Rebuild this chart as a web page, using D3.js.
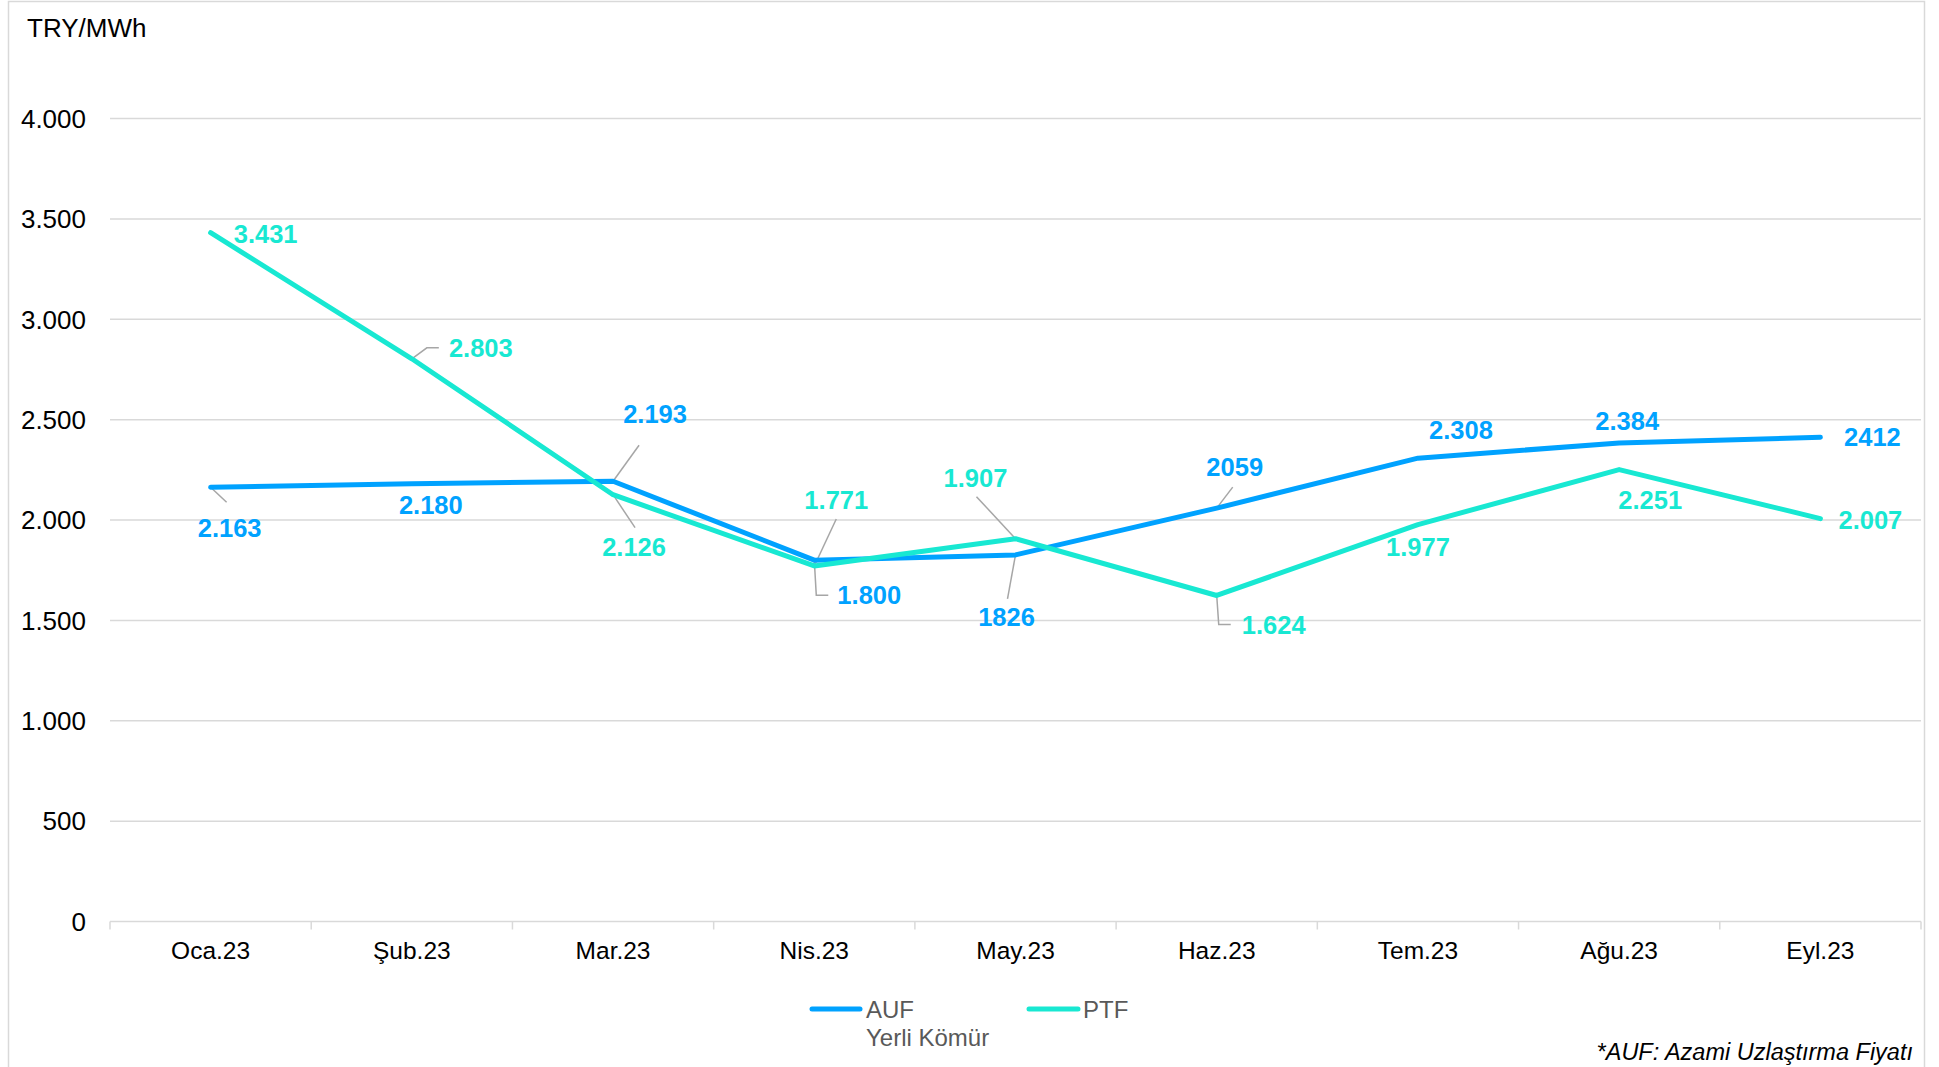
<!DOCTYPE html>
<html>
<head>
<meta charset="utf-8">
<script src="https://cdn.jsdelivr.net/npm/d3@7"></script>
<style>
  body { margin: 0; background: #ffffff; }
  svg { display: block; font-family: "Liberation Sans", Arial, sans-serif; }
</style>
</head>
<body>
<svg id="chart" width="1939" height="1067"></svg>
<script>
const months = ["Oca.23", "Şub.23", "Mar.23", "Nis.23", "May.23", "Haz.23", "Tem.23", "Ağu.23", "Eyl.23"];
const aufValues = [2163, 2180, 2193, 1800, 1826, 2059, 2308, 2384, 2412];
const ptfValues = [3431, 2803, 2126, 1771, 1907, 1624, 1977, 2251, 2007];
const aufLabels = ["2.163", "2.180", "2.193", "1.800", "1826", "2059", "2.308", "2.384", "2412"];
const ptfLabels = ["3.431", "2.803", "2.126", "1.771", "1.907", "1.624", "1.977", "2.251", "2.007"];
const yTicks = [0, 500, 1000, 1500, 2000, 2500, 3000, 3500, 4000];

// label placement (offset of label centre from its point) and leader lines
const aufLabelPos = [[19, 41], [19, 21], [42, -67], [55, 35], [-9, 62], [18, -41], [43, -28], [8, -22], [52, 0]];
const ptfLabelPos = [[55, 1], [69, -11], [21, 52], [22, -66], [-40, -61], [57, 29], [0, 22], [31, 30], [50, 1]];
const aufLeaders = [[[16, 15]], null, [[26, -36]], [[2, 35], [14, 35]], [[-8, 44]], [[16, -21]], null, null, null];
const ptfLeaders = [null, [[15, -11], [27, -11]], [[22, 33]], [[22, -47]], [[-39, -42]], [[2, 29], [14, 29]], null, null, null];

const AUF_COLOR = "#00a2ff";
const PTF_COLOR = "#18e8d2";

const svg = d3.select("#chart");
const margin = { top: 118.5, left: 110, right: 18, bottom: 145.5 };
const W = 1939, H = 1067;

svg.append("rect").attr("width", W).attr("height", H).attr("fill", "#fff");
svg.append("rect")
    .attr("x", 8.5).attr("y", 1.5)
    .attr("width", 1916).attr("height", 1100)
    .attr("fill", "none").attr("stroke", "#d9d9d9").attr("stroke-width", 1.5);

const x = d3.scaleBand()
    .domain(months)
    .range([margin.left, W - margin.right])
    .paddingInner(0).paddingOuter(0);

const y = d3.scaleLinear()
    .domain([0, 4000])
    .range([H - margin.bottom, margin.top]);

const trFormat = d3.formatLocale({ decimal: ",", thousands: ".", grouping: [3], currency: ["", "₺"] }).format(",d");

// grid
svg.append("g")
    .selectAll("line")
    .data(yTicks.filter(d => d > 0))
    .enter()
    .append("line")
    .attr("x1", margin.left).attr("x2", W - margin.right)
    .attr("y1", d => y(d)).attr("y2", d => y(d))
    .attr("stroke", "#d9d9d9").attr("stroke-width", 1.5);

// y labels
svg.append("g")
    .selectAll("text")
    .data(yTicks)
    .enter()
    .append("text")
    .attr("x", 86)
    .attr("y", d => y(d))
    .attr("dy", "0.36em")
    .attr("text-anchor", "end")
    .attr("font-size", 26)
    .attr("fill", "#000")
    .text(d => trFormat(d));

// x axis
const xAxis = svg.append("g")
    .attr("transform", `translate(0,${y(0)})`);
xAxis.append("line")
    .attr("x1", margin.left).attr("x2", W - margin.right)
    .attr("stroke", "#d9d9d9").attr("stroke-width", 1.5);
const bounds = months.map(m => x(m)).concat([x(months[months.length - 1]) + x.bandwidth()]);
xAxis.selectAll(".tick")
    .data(bounds)
    .enter()
    .append("line")
    .attr("x1", d => d).attr("x2", d => d)
    .attr("y1", 0).attr("y2", 8)
    .attr("stroke", "#d9d9d9").attr("stroke-width", 1.5);
xAxis.selectAll(".lbl")
    .data(months)
    .enter()
    .append("text")
    .attr("x", d => x(d) + x.bandwidth() / 2)
    .attr("y", 37)
    .attr("text-anchor", "middle")
    .attr("font-size", 24.5)
    .attr("fill", "#000")
    .text(d => d);

svg.append("text")
    .attr("x", 27).attr("y", 36.5)
    .attr("font-size", 26)
    .attr("fill", "#000")
    .text("TRY/MWh");

const cx = i => x(months[i]) + x.bandwidth() / 2;

const line = d3.line()
    .x((d, i) => cx(i))
    .y(d => y(d));

function drawSeries(values, color) {
    svg.append("path")
        .datum(values)
        .attr("d", line)
        .attr("fill", "none")
        .attr("stroke", color)
        .attr("stroke-width", 5)
        .attr("stroke-linecap", "round")
        .attr("stroke-linejoin", "round");
}

function drawLeaders(values, leaders) {
    values.forEach((v, i) => {
        if (!leaders[i]) return;
        const pts = [[cx(i), y(v)]].concat(leaders[i].map(p => [cx(i) + p[0], y(v) + p[1]]));
        svg.append("path")
            .attr("d", d3.line()(pts))
            .attr("fill", "none")
            .attr("stroke", "#a6a6a6")
            .attr("stroke-width", 1.5);
    });
}

function drawLabels(values, labels, pos, color) {
    svg.append("g")
        .selectAll("text")
        .data(values)
        .enter()
        .append("text")
        .attr("x", (d, i) => cx(i) + pos[i][0])
        .attr("y", (d, i) => y(d) + pos[i][1])
        .attr("dy", "0.36em")
        .attr("text-anchor", "middle")
        .attr("font-size", 25.5)
        .attr("font-weight", "bold")
        .attr("fill", color)
        .text((d, i) => labels[i]);
}

drawLeaders(aufValues, aufLeaders);
drawLeaders(ptfValues, ptfLeaders);
drawSeries(aufValues, AUF_COLOR);
drawSeries(ptfValues, PTF_COLOR);
drawLabels(aufValues, aufLabels, aufLabelPos, AUF_COLOR);
drawLabels(ptfValues, ptfLabels, ptfLabelPos, PTF_COLOR);

// legend
const legend = svg.append("g").attr("font-size", 24).attr("fill", "#595959");
legend.append("line")
    .attr("x1", 812).attr("x2", 860).attr("y1", 1009).attr("y2", 1009)
    .attr("stroke", AUF_COLOR).attr("stroke-width", 5).attr("stroke-linecap", "round");
legend.append("text").attr("x", 866).attr("y", 1018).text("AUF");
legend.append("text").attr("x", 866).attr("y", 1046).text("Yerli Kömür");
legend.append("line")
    .attr("x1", 1029).attr("x2", 1078).attr("y1", 1009).attr("y2", 1009)
    .attr("stroke", PTF_COLOR).attr("stroke-width", 5).attr("stroke-linecap", "round");
legend.append("text").attr("x", 1083).attr("y", 1018).text("PTF");

svg.append("text")
    .attr("x", 1913).attr("y", 1060)
    .attr("text-anchor", "end")
    .attr("font-size", 23.5)
    .attr("font-style", "italic")
    .attr("fill", "#000")
    .text("*AUF: Azami Uzlaştırma Fiyatı");
</script>
</body>
</html>
